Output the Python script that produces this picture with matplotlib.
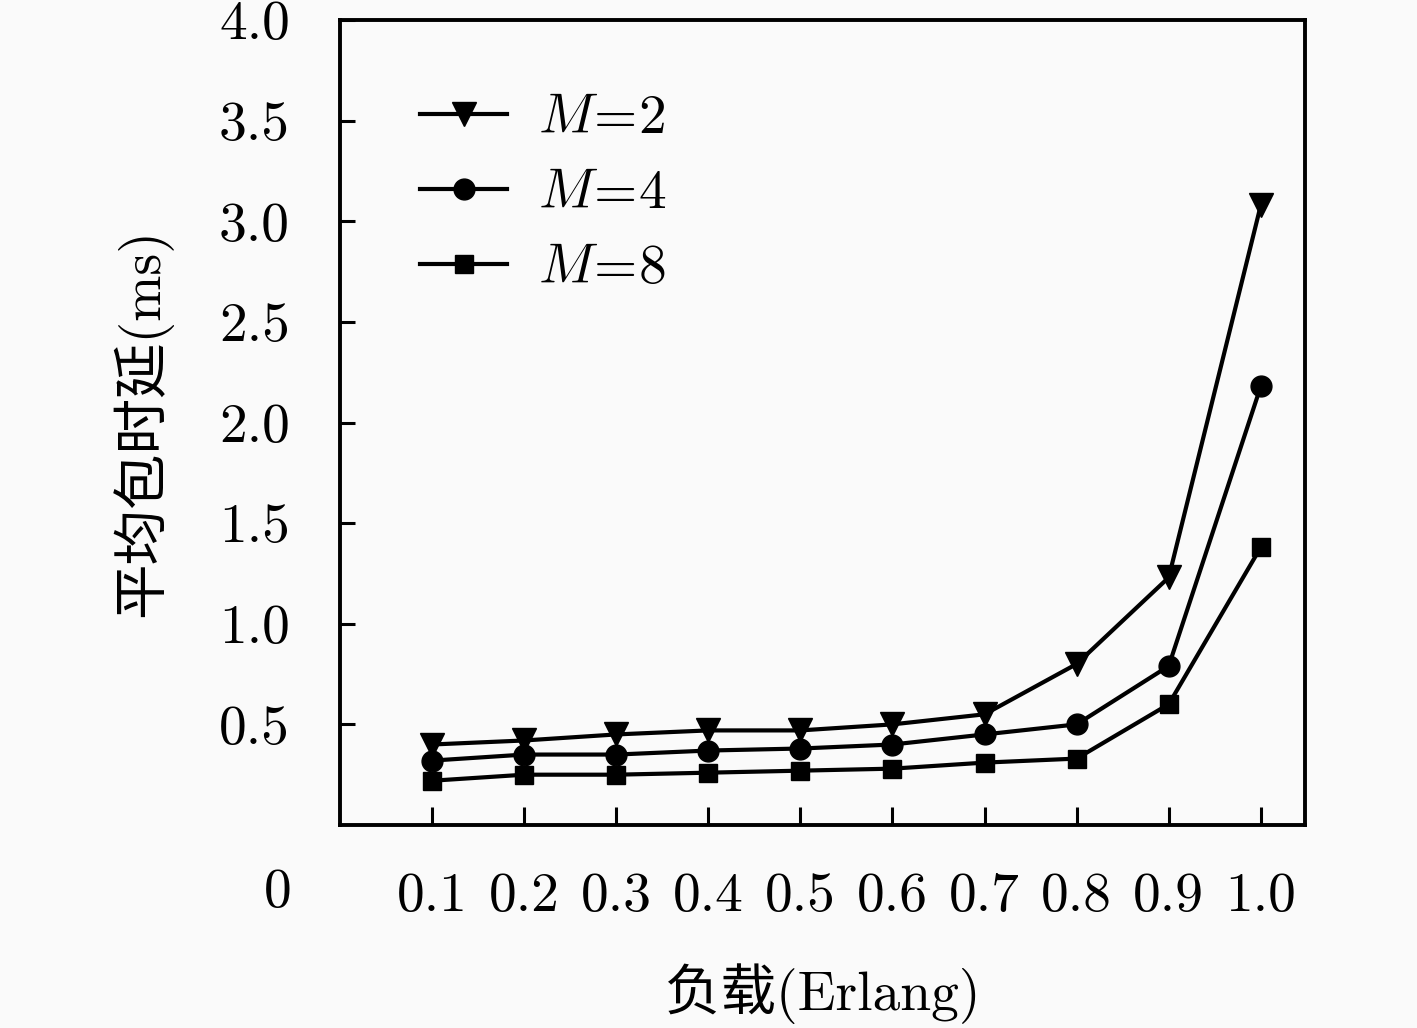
import matplotlib
matplotlib.use("Agg")
import matplotlib.pyplot as plt
from matplotlib.ticker import FixedLocator, FixedFormatter

load = [0.1, 0.2, 0.3, 0.4, 0.5, 0.6, 0.7, 0.8, 0.9, 1.0]
m2 = [0.40, 0.42, 0.45, 0.47, 0.47, 0.50, 0.55, 0.80, 1.23, 3.08]
m4 = [0.32, 0.35, 0.35, 0.37, 0.38, 0.40, 0.45, 0.50, 0.79, 2.18]
m8 = [0.22, 0.25, 0.25, 0.26, 0.27, 0.28, 0.31, 0.33, 0.60, 1.38]
series_labels = [r'$M\!=\!2$', r'$M\!=\!4$', r'$M\!=\!8$']
xtick_labels = ['0.1', '0.2', '0.3', '0.4', '0.5', '0.6', '0.7', '0.8', '0.9', '1.0']
ytick_vals = [0.5, 1.0, 1.5, 2.0, 2.5, 3.0, 3.5, 4.0]
ytick_labels = ['0.5', '1.0', '1.5', '2.0', '2.5', '3.0', '3.5', '4.0']
xlabel = '负载(Erlang)'
ylabel = '平均包时延(ms)'

plt.rcParams['mathtext.fontset'] = 'cm'
plt.rcParams['font.family'] = ['cmr10', 'Noto Sans CJK SC', 'DejaVu Sans']
plt.rcParams['axes.unicode_minus'] = False

fig = plt.figure(figsize=(14.17, 10.28), dpi=100)
fig.patch.set_facecolor('#fafafa')
ax = fig.add_axes([340/1417, 1-825/1028, (1305-340)/1417, (825-20)/1028])
ax.set_facecolor('#fafafa')

for vals, mk, ms, lab in [(m2, 'v', 17, series_labels[0]),
                          (m4, 'o', 15, series_labels[1]),
                          (m8, 's', 13, series_labels[2])]:
    ax.plot(load, vals, color='black', lw=3.0, marker=mk, markersize=ms, label=lab)

ax.set_xlim(0.0, 1.048)
ax.set_ylim(0.0, 4.0)
ax.xaxis.set_major_locator(FixedLocator(load))
ax.xaxis.set_major_formatter(FixedFormatter(xtick_labels))
ax.yaxis.set_major_locator(FixedLocator(ytick_vals))
ax.yaxis.set_major_formatter(FixedFormatter(ytick_labels))
ax.tick_params(axis='x', direction='in', length=13, width=2.2, pad=34, labelsize=40)
ax.tick_params(axis='y', direction='in', length=11, width=2.2, pad=36, labelsize=40)
for s in ax.spines.values():
    s.set_linewidth(2.8)

ax.set_xlabel(xlabel, fontsize=40, labelpad=30)
ax.set_ylabel(ylabel, fontsize=40, labelpad=34)

fig.text(278/1417, 1-893/1028, '0', fontsize=40, ha='center', va='center')

leg = ax.legend(loc='upper left', bbox_to_anchor=(0.06, 0.935), frameon=False,
                fontsize=40, handlelength=1.57, handletextpad=0.55, labelspacing=0.45,
                borderaxespad=0)

fig.savefig('out.png', dpi=100, facecolor=fig.get_facecolor())
